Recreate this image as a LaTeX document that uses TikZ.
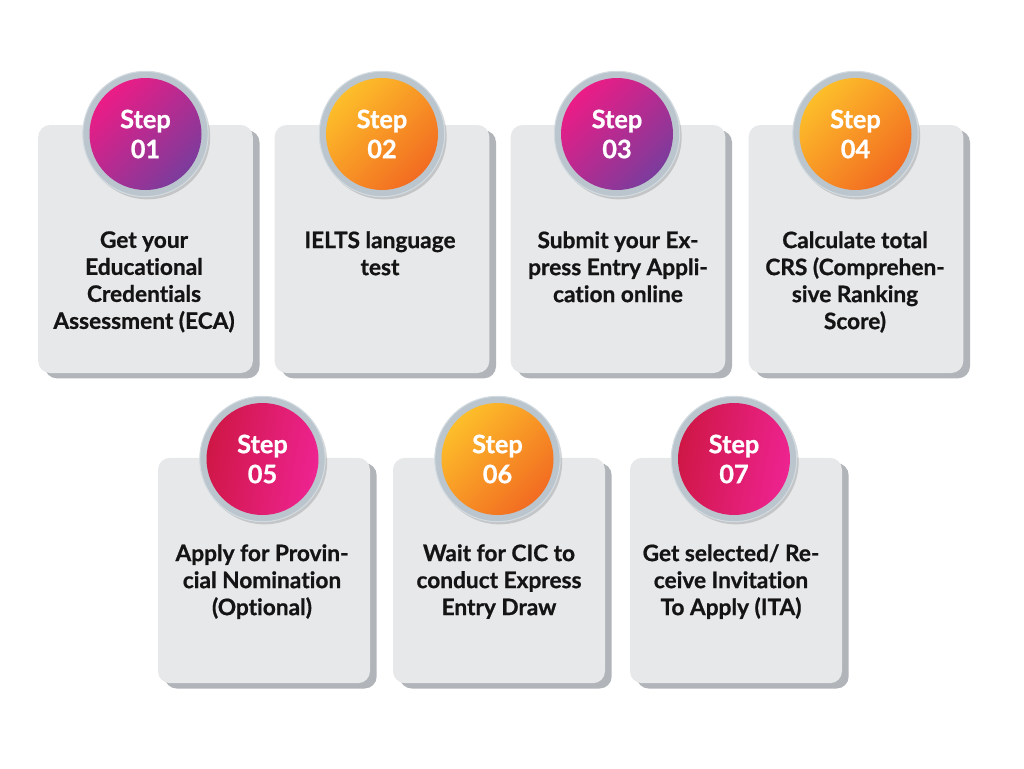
\documentclass[tikz,border=0pt]{standalone}
\usepackage{fontspec}
\setmainfont{Lato}[Ligatures=NoCommon,BoldFeatures={FakeBold=0.8}]
\usetikzlibrary{shadows}
\definecolor{cardgray}{HTML}{E7E8EA}
\definecolor{shadowgray}{HTML}{A4A8AC}
\definecolor{ringgray}{HTML}{BAC5CD}
\definecolor{ringedge}{HTML}{D3DBE0}
\definecolor{textdark}{HTML}{141414}
\definecolor{pinkA}{HTML}{EC1C86}
\definecolor{purpleA}{HTML}{7B3C9C}
\definecolor{yellowA}{HTML}{FDBE2A}
\definecolor{orangeA}{HTML}{F26B21}
\definecolor{crimsonA}{HTML}{CF1746}
\definecolor{rosyA}{HTML}{EE2391}
\begin{document}
\begin{tikzpicture}[x=0.75pt,y=-0.75pt,
  card/.style={rectangle,rounded corners=9pt,fill=cardgray,minimum width=161pt,minimum height=186pt,
    drop shadow={shadow xshift=5pt,shadow yshift=-4pt,fill=shadowgray,opacity=0.85}},
  lowcard/.style={card,minimum width=159pt,minimum height=169pt},
  ring/.style={circle,fill=ringgray,draw=ringedge,line width=0.8pt,minimum size=94pt,inner sep=0pt,
    drop shadow={shadow xshift=1.5pt,shadow yshift=-2pt,fill=black,opacity=0.15}},
  badge/.style={circle,minimum size=84pt,inner sep=0pt,text=white,align=center,
    font=\bfseries\fontsize{19}{22.5}\selectfont},
  purplebadge/.style={badge,top color=pinkA,bottom color=purpleA,shading angle=45},
  orangebadge/.style={badge,top color=yellowA,bottom color=orangeA,shading angle=45},
  redbadge/.style={badge,top color=crimsonA,bottom color=rosyA,shading angle=80},
  steptext/.style={anchor=north,align=center,inner sep=0pt,text=textdark,
    font=\bfseries\fontsize{17}{20.25}\selectfont}]

\fill [white] (0,0) rectangle (1024,768);
\useasboundingbox (0,0) rectangle (1024,768);

% top row
\node [card] (card1) at (145.5,249) {};
\node [card] (card2) at (382,249) {};
\node [card] (card3) at (618,249) {};
\node [card] (card4) at (856,249) {};

\node [ring] (ring1) at (145.5,134) {};
\node [ring] (ring2) at (382,134) {};
\node [ring] (ring3) at (617,134) {};
\node [ring] (ring4) at (855.5,134) {};
\node [purplebadge] (badge1) at (ring1) {Step\\01};
\node [orangebadge] (badge2) at (ring2) {Step\\02};
\node [purplebadge] (badge3) at (ring3) {Step\\03};
\node [orangebadge] (badge4) at (ring4) {Step\\04};

\node [steptext] (txt1) at (144,231) {Get your\\Educational\\Credentials\\Assessment (ECA)};
\node [steptext] (txt2) at (380,231) {IELTS language\\test};
\node [steptext] (txt3) at (618,231) {Submit your Ex-\\press Entry Appli-\\cation online};
\node [steptext] (txt4) at (855,231) {Calculate total\\CRS (Comprehen-\\sive Ranking\\Score)};

% bottom row
\node [lowcard] (card5) at (264,570.5) {};
\node [lowcard] (card6) at (499,570.5) {};
\node [lowcard] (card7) at (736,570.5) {};

\node [ring] (ring5) at (262.5,459) {};
\node [ring] (ring6) at (497.5,459) {};
\node [ring] (ring7) at (734,459) {};
\node [redbadge] (badge5) at (ring5) {Step\\05};
\node [orangebadge] (badge6) at (ring6) {Step\\06};
\node [redbadge] (badge7) at (ring7) {Step\\07};

\node [steptext] (txt5) at (262,544) {Apply for Provin-\\cial Nomination\\(Optional)};
\node [steptext] (txt6) at (499,544) {Wait for CIC to\\conduct Express\\Entry Draw};
\node [steptext] (txt7) at (731,544) {Get selected/ Re-\\ceive Invitation\\To Apply (ITA)};
\end{tikzpicture}
\end{document}
